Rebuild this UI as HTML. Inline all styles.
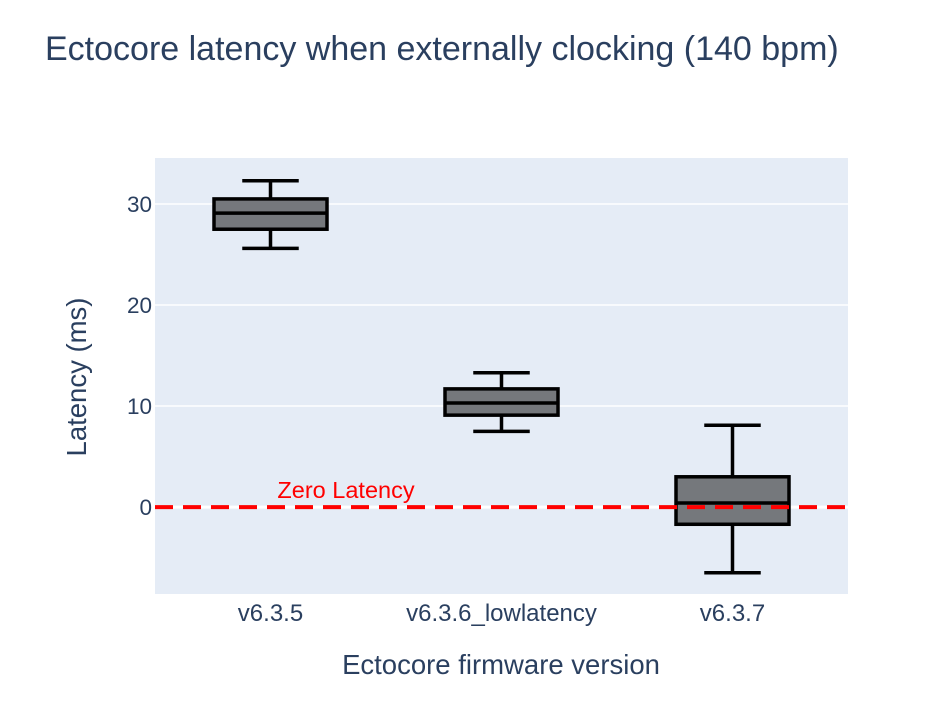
<!DOCTYPE html>
<html><head><meta charset="utf-8">
<style>
body{margin:0;background:#fff;font-family:"Liberation Sans",Arial,sans-serif;}
</style></head>
<body>
<svg id="chart" width="951" height="714" xmlns="http://www.w3.org/2000/svg">
<text x="45" y="60" font-size="34" fill="#2a3f5f">Ectocore latency when externally clocking (140 bpm)</text>
<rect x="155" y="158" width="693" height="436" fill="#e5ecf6"/>
<g id="grid"></g>
<g id="boxes"></g>
<g id="xt"></g>
<text x="86" y="377" font-size="27.5" fill="#2a3f5f" text-anchor="middle" transform="rotate(-90 86 377)">Latency (ms)</text>
<text x="501" y="674" font-size="27.5" fill="#2a3f5f" text-anchor="middle">Ectocore firmware version</text>
</svg>
<script>
const categories=["v6.3.5","v6.3.6_lowlatency","v6.3.7"];
const lowerW=[25.6,7.5,-6.5];
const q1=[27.5,9.1,-1.7];
const medians=[29.1,10.3,0.4];
const q3=[30.5,11.7,3.0];
const upperW=[32.3,13.3,8.1];
const yTicks=[0,10,20,30];
const refValue=0;
const refLabel="Zero Latency";

const NS="http://www.w3.org/2000/svg";
const X0=155,X1=848,Y0=158,Y1=594,ymin=-8.6,ymax=34.55;
const y=v=>Y1-(v-ymin)/(ymax-ymin)*(Y1-Y0);
const band=(X1-X0)/categories.length;
const x=i=>X0+band*(i+0.5);
function mk(tag,attrs,parent){const e=document.createElementNS(NS,tag);for(const k in attrs)e.setAttribute(k,attrs[k]);parent.appendChild(e);return e;}
const grid=document.getElementById('grid'),boxes=document.getElementById('boxes'),xt=document.getElementById('xt');
yTicks.forEach(t=>{
  if(t!==0){const l=mk('line',{x1:X0,x2:X1,y1:y(t),y2:y(t),stroke:'#fff','stroke-width':1.5},grid);
  
  }
  const tx=mk('text',{x:152,y:y(t)+8,'font-size':22.5,fill:'#2a3f5f','text-anchor':'end'},grid);
  tx.textContent=t;
  
  
});
const zl=mk('line',{x1:X0,x2:X1,y1:y(0),y2:y(0),stroke:'#fff','stroke-width':3},grid);


const bw=113;
categories.forEach((c,i)=>{
  const g=mk('g',{},boxes);
  
  
  const cx=x(i);
  mk('line',{x1:cx,x2:cx,y1:y(upperW[i]),y2:y(q3[i]),stroke:'#000','stroke-width':3.5},g);
  mk('line',{x1:cx,x2:cx,y1:y(q1[i]),y2:y(lowerW[i]),stroke:'#000','stroke-width':3.5},g);
  mk('line',{x1:cx-bw/4,x2:cx+bw/4,y1:y(upperW[i]),y2:y(upperW[i]),stroke:'#000','stroke-width':3.5},g);
  mk('line',{x1:cx-bw/4,x2:cx+bw/4,y1:y(lowerW[i]),y2:y(lowerW[i]),stroke:'#000','stroke-width':3.5},g);
  mk('rect',{x:cx-bw/2,y:y(q3[i]),width:bw,height:y(q1[i])-y(q3[i]),fill:'#75787c',stroke:'#000','stroke-width':3.5},g);
  mk('line',{x1:cx-bw/2,x2:cx+bw/2,y1:y(medians[i]),y2:y(medians[i]),stroke:'#000','stroke-width':3.5},g);
  const t=mk('text',{x:cx,y:621,'font-size':24,fill:'#2a3f5f','text-anchor':'middle'},xt);
  t.textContent=c;
  
  
});
const rl=mk('line',{x1:X0,x2:X1,y1:y(refValue),y2:y(refValue),stroke:'#ff0000','stroke-width':4,'stroke-dasharray':'18 10'},boxes);


const rt=mk('text',{x:346,y:y(refValue)-9,'font-size':23.5,fill:'#ff0000','text-anchor':'middle'},boxes);
rt.textContent=refLabel;


</script>
</body></html>
